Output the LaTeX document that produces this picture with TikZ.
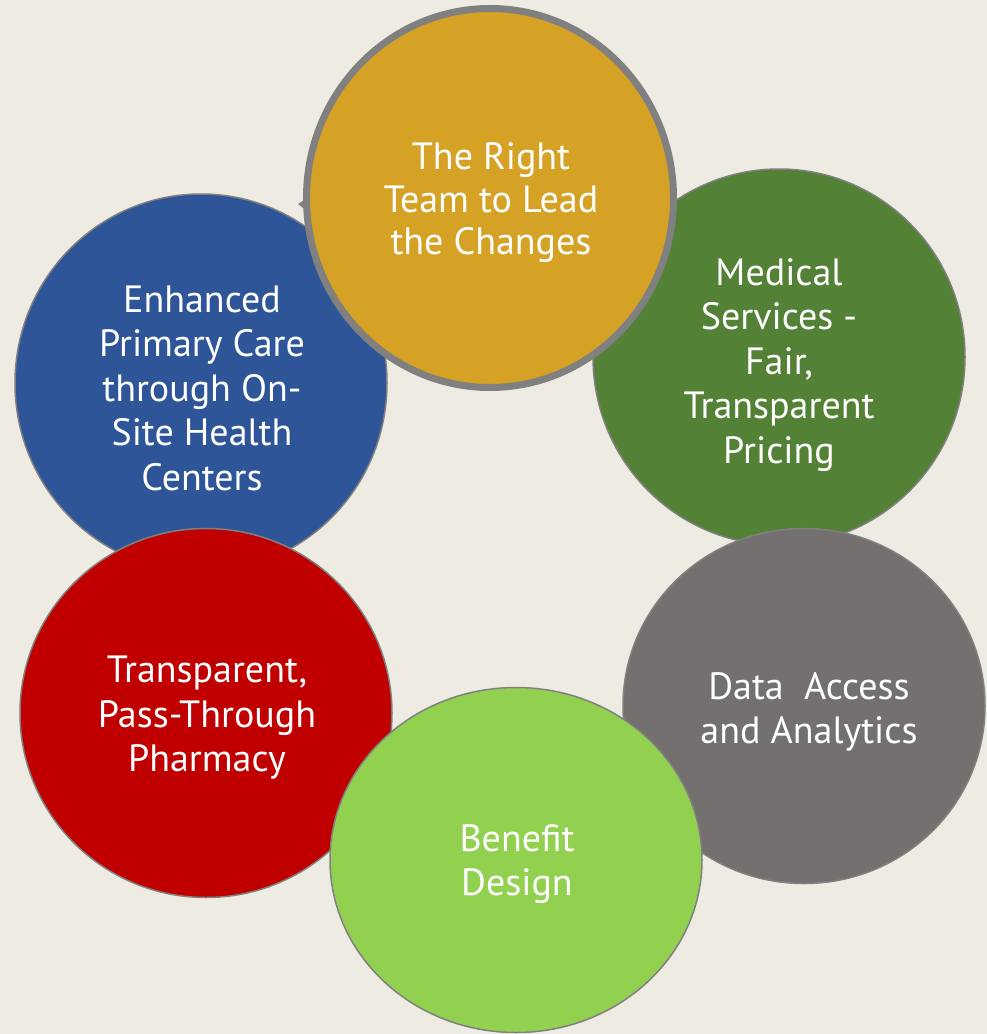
\documentclass[tikz,border=0pt]{standalone}
\usepackage{fontspec}
\setmainfont{PT Sans}
\usetikzlibrary{shapes.geometric}
\definecolor{bg}{HTML}{EEEBE3}
\definecolor{edge}{HTML}{808080}
\definecolor{cblue}{HTML}{2E5597}
\definecolor{cgold}{HTML}{D6A225}
\definecolor{cgreen}{HTML}{538135}
\definecolor{cgray}{HTML}{757070}
\definecolor{cred}{HTML}{C00000}
\definecolor{clime}{HTML}{92D050}
\begin{document}
\begin{tikzpicture}[x=1pt,y=-1pt,
  disc/.style={ellipse, draw=edge, line width=1.5pt, inner sep=0pt},
  lbl/.style={text=white, align=center, inner sep=0pt, font=\fontsize{38}{44.5}\selectfont}]
\fill[bg] (0,0) rectangle (987,1034);
\useasboundingbox (0,0) rectangle (987,1034);
\node[disc, fill=cblue, minimum width=372pt, minimum height=378pt] (blue) at (201,383) {};
\node[disc, fill=cred, minimum width=372pt, minimum height=369pt] (red) at (206,713) {};
\node[disc, fill=cgreen, minimum width=372pt, minimum height=376pt] (green) at (779,357) {};
\node[disc, fill=cgray, minimum width=362pt, minimum height=355pt] (gray) at (804,706) {};
\node[disc, fill=clime, minimum width=372pt, minimum height=345pt] (lime) at (516,860) {};
\fill[edge] (298,204) -- (307,198) -- (307,211) -- cycle;
\node[disc, fill=cgold, line width=7pt, minimum width=367pt, minimum height=379pt] (gold) at (490,198) {};
\node[lbl, font=\fontsize{38}{42.5}\selectfont] (tgold) at (491,203) {The Right\\Team to Lead\\the Changes};
\node[lbl] (tblue) at (202,388) {Enhanced\\Primary Care\\through On-\\Site Health\\Centers};
\node[lbl] (tgreen) at (779,365) {Medical\\Services -\\Fair,\\Transparent\\Pricing};
\node[lbl] (tgray) at (809,712) {Data\ \ Access\\and Analytics};
\node[lbl] (tred) at (207,718) {Transparent,\\Pass-Through\\Pharmacy};
\node[lbl] (tlime) at (517,864) {Benefit\\Design};
\end{tikzpicture}
\end{document}
